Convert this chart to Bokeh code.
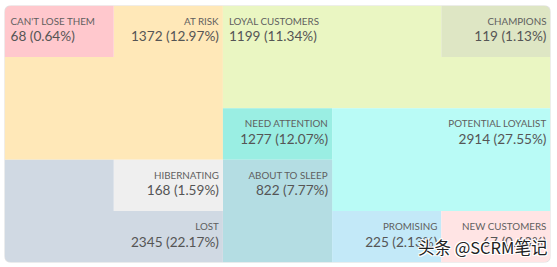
from bokeh.plotting import figure
from bokeh.models import ColumnDataSource, Range1d
from bokeh.core.properties import value
from bokeh.embed import file_html
from bokeh.resources import INLINE

# RFM segments: name, customer count, share
names = ["CAN'T LOSE THEM", "AT RISK", "LOYAL CUSTOMERS", "CHAMPIONS",
         "NEED ATTENTION", "POTENTIAL LOYALIST", "ABOUT TO SLEEP",
         "HIBERNATING", "LOST", "PROMISING", "NEW CUSTOMERS"]
counts = [68, 1372, 1199, 119, 1277, 2914, 822, 168, 2345, 225, 67]
shares = ["0.64%", "12.97%", "11.34%", "1.13%", "12.07%", "27.55%",
          "7.77%", "1.59%", "22.17%", "2.13%", "0.63%"]
colors = ["#FFC8CD", "#FFE8B8", "#EAF6C2", "#DEE6C4", "#9AEEE3", "#B9FBF6",
          "#B4DDE3", "#EFEFEF", "#D0D9E3", "#C3E9F8", "#FFE4E4"]

# grid cells (recency score range, frequency score range) per segment piece
piece_seg = [0, 1, 1, 2, 2, 3, 4, 5, 6, 7, 8, 8, 9, 10]
piece_r0 = [0, 1, 0, 2, 2, 4, 2, 3, 2, 1, 0, 0, 3, 4]
piece_r1 = [1, 2, 2, 4, 5, 5, 3, 5, 3, 2, 1, 2, 4, 5]
piece_f0 = [4, 4, 2, 4, 3, 4, 2, 1, 0, 1, 1, 0, 0, 0]
piece_f1 = [5, 5, 4, 5, 4, 5, 3, 3, 2, 2, 2, 1, 1, 1]
# card corners: index of piece -> rounded corner
corner = {0: (6, 0, 0, 0), 5: (0, 6, 0, 0), 13: (0, 0, 6, 0), 11: (0, 0, 0, 6)}

# label anchor per segment (grid units) and alignment
lab_r = [0, 2, 2, 5, 3, 5, 3, 2, 2, 4, 5]
lab_f = [5, 5, 5, 5, 3, 3, 2, 2, 1, 1, 1]
lab_align = ["left", "right", "left", "right", "right", "right", "right",
             "right", "right", "right", "right"]

p = figure(width=557, height=267, output_backend="svg", toolbar_location=None,
           x_range=Range1d(0, 5), y_range=Range1d(0, 5),
           min_border_left=4, min_border_right=7, min_border_top=5,
           min_border_bottom=5)
p.axis.visible = False
p.grid.visible = False
p.outline_line_color = None
p.background_fill_color = "white"
p.border_fill_color = "white"

normal = [i for i in range(len(piece_seg)) if i not in corner]
src = ColumnDataSource(dict(
    left=[piece_r0[i] for i in normal], right=[piece_r1[i] for i in normal],
    bottom=[piece_f0[i] for i in normal], top=[piece_f1[i] for i in normal],
    color=[colors[piece_seg[i]] for i in normal]))
p.quad(left="left", right="right", bottom="bottom", top="top",
       fill_color="color", line_color=None, source=src)
for i, br in corner.items():
    p.quad(left=[piece_r0[i]], right=[piece_r1[i]], bottom=[piece_f0[i]],
           top=[piece_f1[i]], fill_color=colors[piece_seg[i]], line_color=None,
           border_radius=br)

# card border
p.quad(left=[0], right=[5], bottom=[0], top=[5], fill_color=None,
       line_color="#E2E2E2", line_width=1, border_radius=6)

for align in ["left", "right"]:
    idx = [k for k in range(len(names)) if lab_align[k] == align]
    xo = 6 if align == "left" else -4
    ds = ColumnDataSource(dict(
        x=[lab_r[k] for k in idx], y=[lab_f[k] for k in idx],
        name=[names[k] for k in idx],
        val=["%d (%s)" % (counts[k], shares[k]) for k in idx]))
    p.text(x="x", y="y", text="name", source=ds, x_offset=xo, y_offset=9,
           text_align=align, text_baseline="top", text_font=value("Lato"),
           text_font_size="9.8px", text_color="#5f5f5f")
    p.text(x="x", y="y", text="val", source=ds, x_offset=xo, y_offset=22.5,
           text_align=align, text_baseline="top", text_font=value("Lato"),
           text_font_size="13.6px", text_color="#555555")

# watermark
wm = "头条 @SCRM笔记"
for dx, dy in [(-1, 0), (1, 0), (0, -1), (0, 1), (-1, -1), (1, 1), (-1, 1), (1, -1)]:
    p.text(x=[5], y=[0], text=[wm], x_offset=-3 + dx, y_offset=-4 + dy,
           text_align="right", text_baseline="bottom",
           text_font=value("Noto Sans CJK SC"), text_font_size="16.5px",
           text_color="white")
p.text(x=[5], y=[0], text=[wm], x_offset=-3, y_offset=-4,
       text_align="right", text_baseline="bottom",
       text_font=value("Noto Sans CJK SC"), text_font_size="16.5px",
       text_color="#222222")

open("out.html", "w").write(file_html(p, INLINE))
